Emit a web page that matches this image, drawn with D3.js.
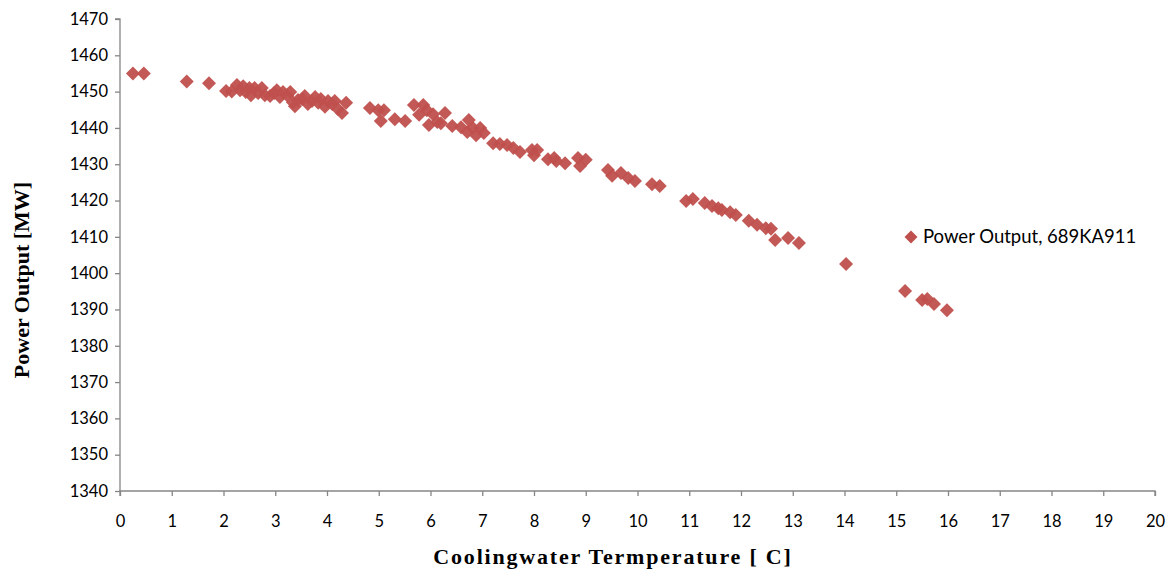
<!DOCTYPE html>
<html>
<head>
<meta charset="utf-8">
<script src="https://cdn.jsdelivr.net/npm/d3@7"></script>
<style>
  html, body { margin: 0; padding: 0; background: #fff; }
  svg { display: block; }
</style>
</head>
<body>
<svg id="chart" width="1174" height="576"></svg>
<script>
// ---- Data ----
const temperature = [
  0.25, 0.46, 1.29, 1.72,
  2.05, 2.16, 2.26, 2.32, 2.38, 2.43, 2.50, 2.53, 2.60, 2.67, 2.74, 2.80, 2.90, 2.98,
  3.03, 3.09, 3.15, 3.23, 3.29, 3.34, 3.38, 3.44, 3.52, 3.57, 3.63, 3.71, 3.77, 3.83,
  3.88, 3.96, 4.02, 4.10, 4.15, 4.21, 4.29, 4.37,
  4.83, 4.99, 5.10, 5.04, 5.31, 5.51, 5.68, 5.78, 5.86, 5.93, 5.97, 6.05, 6.13, 6.20,
  6.28, 6.42, 6.59, 6.71, 6.74, 6.82, 6.88, 6.96, 7.03,
  7.21, 7.34, 7.48, 7.60, 7.73, 7.96, 8.06, 8.00, 8.27, 8.39, 8.43, 8.60, 8.85, 8.89, 9.00,
  9.43, 9.51, 9.68, 9.82, 9.95, 10.28, 10.43,
  10.94, 11.07, 11.30, 11.44, 11.56, 11.63, 11.79, 11.90, 12.15, 12.31, 12.48, 12.58,
  12.66, 12.91, 13.12, 14.03, 15.17, 15.50, 15.60, 15.73, 15.98
];
const powerOutput = [
  1455.0, 1455.0, 1452.8, 1452.3,
  1450.2, 1450.0, 1451.8, 1450.4, 1451.5, 1449.9, 1451.0, 1449.0, 1451.0, 1449.6, 1451.0, 1449.0, 1448.8, 1449.6,
  1450.4, 1448.5, 1449.9, 1449.0, 1449.9, 1447.1, 1446.0, 1447.7, 1448.0, 1448.8, 1446.6, 1447.4, 1448.5, 1446.9,
  1448.0, 1445.8, 1447.4, 1446.6, 1447.4, 1445.2, 1444.1, 1446.9,
  1445.5, 1444.9, 1444.9, 1441.9, 1442.4, 1441.9, 1446.3, 1443.6, 1446.3, 1444.9, 1440.8, 1443.8, 1441.6, 1441.3,
  1444.1, 1440.5, 1440.2, 1438.9, 1442.2, 1440.0, 1438.0, 1440.0, 1438.6,
  1435.8, 1435.6, 1435.3, 1434.5, 1433.4, 1433.9, 1433.9, 1432.5, 1431.4, 1431.7, 1430.9, 1430.3, 1431.7, 1429.5, 1431.2,
  1428.4, 1426.8, 1427.6, 1426.2, 1425.4, 1424.5, 1424.0,
  1419.9, 1420.4, 1419.3, 1418.5, 1417.9, 1417.4, 1416.8, 1416.0, 1414.4, 1413.3, 1412.4, 1412.2,
  1409.1, 1409.7, 1408.3, 1402.5, 1395.1, 1392.6, 1392.9, 1391.5, 1389.8
];
const xTicks = d3.range(0, 21, 1);
const yTicks = d3.range(1340, 1471, 10);
const seriesName = "Power Output, 689KA911";
const xTitle = "Coolingwater Termperature [ C]";
const yTitle = "Power Output [MW]";

// ---- Layout ----
const svg = d3.select("#chart");
const plot = { left: 120, right: 1155, top: 19, bottom: 491 };
const x = d3.scaleLinear().domain([0, 20]).range([plot.left, plot.right]);
const y = d3.scaleLinear().domain([1340, 1470]).range([plot.bottom, plot.top]);
const axisColor = "#868686";
const markerColor = "#C0504D";
const tickFont = "Lato, 'Open Sans', sans-serif";

// Y axis
const yAxis = svg.append("g")
  .attr("transform", `translate(${plot.left},0)`)
  .call(d3.axisLeft(y).tickValues(yTicks).tickSize(5).tickPadding(7).tickFormat(d3.format("d")));
// X axis
const xAxis = svg.append("g")
  .attr("transform", `translate(0,${plot.bottom})`)
  .call(d3.axisBottom(x).tickValues(xTicks).tickSize(5).tickPadding(19).tickFormat(d3.format("d")));

[yAxis, xAxis].forEach(g => {
  g.select(".domain").attr("stroke", axisColor).attr("stroke-width", 1.3);
  g.selectAll(".tick line").attr("stroke", axisColor).attr("stroke-width", 1.3);
  g.selectAll(".tick text").attr("fill", "#000").style("font-family", tickFont).style("font-size", "16.5px");
});
yAxis.select(".domain").attr("d", `M-5,${plot.top}H0V${plot.bottom}H0`);
xAxis.select(".domain").attr("d", `M${plot.left},5V0H${plot.right}V5`);

// Diamond marker
const r = 7;
const diamondPath = `M0,${-r}L${r},0L0,${r}L${-r},0Z`;

svg.append("g").selectAll("path")
  .data(temperature.map((t, i) => [t, powerOutput[i]]))
  .join("path")
  .attr("d", diamondPath)
  .attr("transform", d => `translate(${x(d[0])},${y(d[1])})`)
  .attr("fill", markerColor)
  .attr("fill-opacity", 0.95);

// Legend
const legend = svg.append("g").attr("transform", "translate(911,237)");
legend.append("path").attr("d", `M0,-6.5L6.5,0L0,6.5L-6.5,0Z`).attr("fill", markerColor);
legend.append("text").attr("x", 12).attr("y", 0).attr("dy", "0.35em")
  .style("font-family", tickFont).style("font-size", "18.5px").attr("fill", "#000")
  .text(seriesName);

// Axis titles
svg.append("text")
  .attr("x", 613).attr("y", 564)
  .attr("text-anchor", "middle")
  .style("font-family", "'Liberation Serif', 'Times New Roman', serif")
  .style("font-weight", "bold").style("font-size", "22px")
  .style("letter-spacing", "1.8px")
  .text(xTitle);
svg.append("text")
  .attr("transform", "translate(29,280) rotate(-90)")
  .attr("text-anchor", "middle")
  .style("font-family", "'Liberation Serif', 'Times New Roman', serif")
  .style("font-weight", "bold").style("font-size", "22px")
  .text(yTitle);
</script>
</body>
</html>
